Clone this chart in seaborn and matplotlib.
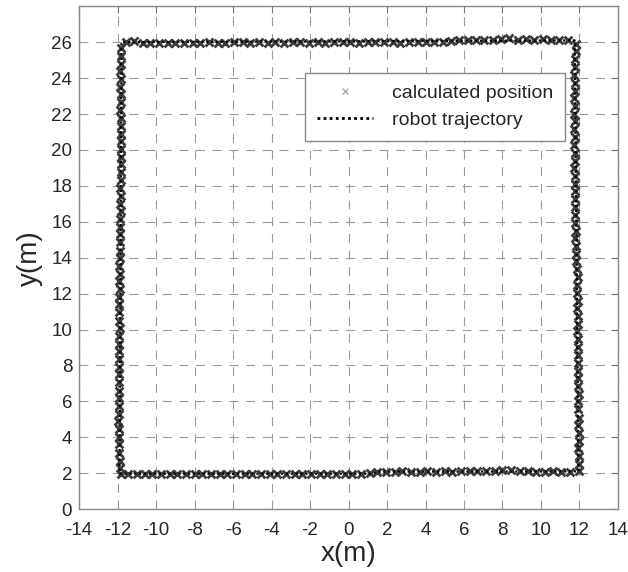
import matplotlib
matplotlib.use("Agg")
import matplotlib.pyplot as plt
import seaborn as sns
import pandas as pd
from matplotlib.lines import Line2D

# calculated positions, one list pair per side of the loop
bottom_x = [-11.85, -11.45, -11.0, -10.6, -10.2, -9.75, -9.3, -8.9, -8.45, -8.0,
            -7.6, -7.15, -6.7, -6.3, -5.85, -5.4, -5.0, -4.55, -4.1, -3.7,
            -3.25, -2.8, -2.4, -1.95, -1.5, -1.1, -0.65, -0.2, 0.2, 0.65,
            1.1, 1.5, 1.95, 2.4, 2.8, 3.25, 3.7, 4.1, 4.55, 5.0,
            5.4, 5.85, 6.3, 6.7, 7.15, 7.6, 8.0, 8.45, 8.9, 9.3,
            9.75, 10.2, 10.6, 11.05, 11.5]
bottom_y = [1.98, 1.96, 1.95, 1.97, 1.96, 1.95, 1.98, 1.96, 1.97, 1.95,
            1.96, 1.98, 1.95, 1.97, 1.96, 1.94, 1.97, 1.96, 1.95, 1.98,
            1.96, 1.95, 1.97, 1.96, 1.94, 1.96, 1.98, 1.95, 1.97, 1.96,
            1.99, 2.06, 2.08, 2.07, 2.1, 2.08, 2.09, 2.11, 2.08, 2.1,
            2.09, 2.12, 2.1, 2.11, 2.13, 2.12, 2.2, 2.17, 2.12, 2.1,
            2.09, 2.08, 2.1, 2.08, 2.09]

right_x = [11.96, 11.95, 11.97, 11.94, 11.96, 11.95, 11.93, 11.96, 11.94, 11.92,
           11.95, 11.93, 11.91, 11.94, 11.92, 11.9, 11.93, 11.91, 11.89, 11.92,
           11.9, 11.88, 11.91, 11.89, 11.87, 11.9, 11.86, 11.84, 11.82, 11.8,
           11.78, 11.8, 11.77, 11.79, 11.76, 11.78, 11.75, 11.77, 11.76, 11.74,
           11.77, 11.75, 11.73, 11.76, 11.74, 11.75, 11.73, 11.76, 11.74, 11.75,
           11.77, 11.74, 11.76, 11.78, 11.8, 11.82]
right_y = [2.1, 2.5, 2.95, 3.4, 3.8, 4.25, 4.7, 5.1, 5.55, 6.0,
           6.4, 6.85, 7.3, 7.7, 8.15, 8.6, 9.0, 9.45, 9.9, 10.3,
           10.75, 11.2, 11.6, 12.05, 12.5, 12.9, 13.35, 13.8, 14.2, 14.65,
           15.1, 15.5, 15.95, 16.4, 16.8, 17.25, 17.7, 18.1, 18.55, 19.0,
           19.4, 19.85, 20.3, 20.7, 21.15, 21.6, 22.0, 22.45, 22.9, 23.3,
           23.75, 24.2, 24.6, 25.05, 25.5, 25.9]

top_x = [11.4, 10.95, 10.5, 10.1, 9.65, 9.2, 8.8, 8.35, 7.9, 7.5,
         7.05, 6.6, 6.2, 5.75, 5.3, 4.9, 4.45, 4.0, 3.6, 3.15,
         2.7, 2.3, 1.85, 1.4, 1.0, 0.55, 0.1, -0.3, -0.75, -1.2,
         -1.6, -2.05, -2.5, -2.9, -3.35, -3.8, -4.2, -4.65, -5.1, -5.5,
         -5.95, -6.4, -6.8, -7.25, -7.7, -8.1, -8.55, -9.0, -9.4, -9.85,
         -10.3, -10.7, -11.15, -11.55]
top_y = [26.12, 26.15, 26.14, 26.16, 26.13, 26.17, 26.15, 26.22, 26.16, 26.14,
         26.15, 26.13, 26.12, 26.1, 26.06, 26.03, 26.0, 26.02, 25.99, 26.01,
         25.98, 26.0, 25.99, 26.02, 26.0, 25.98, 26.01, 25.99, 26.0, 25.97,
         26.0, 25.98, 26.01, 25.99, 25.97, 26.0, 25.98, 26.0, 25.97, 25.99,
         26.0, 25.98, 25.96, 25.99, 25.97, 25.98, 25.96, 25.97, 25.95, 25.97,
         25.93, 25.95, 26.05, 26.03]

left_x = [-11.82, -11.85, -11.83, -11.86, -11.84, -11.87, -11.85, -11.83, -11.86, -11.84,
          -11.82, -11.8, -11.83, -11.81, -11.84, -11.82, -11.85, -11.83, -11.86, -11.84,
          -11.87, -11.85, -11.88, -11.86, -11.89, -11.87, -11.9, -11.88, -11.91, -11.89,
          -11.92, -11.9, -11.93, -11.91, -11.94, -11.92, -11.9, -11.93, -11.91, -11.94,
          -11.92, -11.95, -11.93, -11.91, -11.94, -11.92, -11.95, -11.93, -11.96, -11.94,
          -11.92, -11.95, -11.93, -11.9, -11.88]
left_y = [25.7, 25.25, 24.8, 24.4, 23.95, 23.5, 23.1, 22.65, 22.2, 21.8,
          21.35, 20.9, 20.5, 20.05, 19.6, 19.2, 18.75, 18.3, 17.9, 17.45,
          17.0, 16.6, 16.15, 15.7, 15.3, 14.85, 14.4, 14.0, 13.55, 13.1,
          12.7, 12.25, 11.8, 11.4, 10.95, 10.5, 10.1, 9.65, 9.2, 8.8,
          8.35, 7.9, 7.5, 7.05, 6.6, 6.2, 5.75, 5.3, 4.9, 4.45,
          4.0, 3.6, 3.15, 2.7, 2.3]

# robot trajectory waypoints
traj_x = [-11.9, 1.2, 1.5, 11.95, 11.85, 11.75, -11.8, -11.9]
traj_y = [1.97, 1.97, 2.08, 2.1, 14.0, 26.1, 26.0, 1.97]

x_ticks = list(range(-14, 15, 2))
y_ticks = list(range(0, 27, 2))

calc = pd.DataFrame({
    "x": bottom_x + right_x + top_x + left_x,
    "y": bottom_y + right_y + top_y + left_y,
})
traj = pd.DataFrame({"x": traj_x, "y": traj_y})

sns.set_style("white")
plt.rcParams["font.family"] = ["Liberation Sans", "DejaVu Sans"]

fig = plt.figure(figsize=(6.28, 5.72), dpi=100)
ax = fig.add_axes([0.126, 0.110, 0.858, 0.879])

sns.scatterplot(data=calc, x="x", y="y", marker="x", s=32, color="#3c3c3c",
                linewidth=2.0, ax=ax, zorder=3)
sns.lineplot(data=traj, x="x", y="y", sort=False, estimator=None, color="black",
             linestyle=(0, (1, 1.2)), linewidth=1.6, ax=ax, zorder=4)

ax.set_xlim(-14, 14)
ax.set_ylim(0, 28)
ax.set_xticks(x_ticks)
ax.set_yticks(y_ticks)
ax.set_xticklabels([str(t) for t in x_ticks], fontsize=13.5)
ax.set_yticklabels([str(t) for t in y_ticks], fontsize=13.5)
ax.tick_params(direction="in", length=5, top=True, right=True, color="#777777")
ax.tick_params(axis="x", pad=9)
ax.tick_params(axis="y", pad=5)
ax.grid(True, color="#9a9a9a", linestyle=(0, (8, 7)), linewidth=0.8)
for sp in ax.spines.values():
    sp.set_color("#888888")
    sp.set_linewidth(1.0)

ax.set_xlabel("x(m)", fontsize=20, labelpad=2)
ax.set_ylabel("y(m)", fontsize=20, labelpad=6)

handles = [
    Line2D([], [], marker="x", linestyle="none", color="#999999", markersize=5, markeredgewidth=0.8),
    Line2D([], [], color="black", linestyle=(0, (1, 1.2)), linewidth=2),
]
leg = ax.legend(handles, ["calculated position", "robot trajectory"],
                loc="upper left", bbox_to_anchor=(0.419, 0.868), fontsize=14,
                frameon=True, fancybox=False, framealpha=1, edgecolor="#888888",
                borderpad=0.6, handlelength=2.9, handletextpad=1.0, labelspacing=0.5,
                borderaxespad=0)
leg.get_frame().set_linewidth(1.0)

fig.savefig("out.png", dpi=100)
